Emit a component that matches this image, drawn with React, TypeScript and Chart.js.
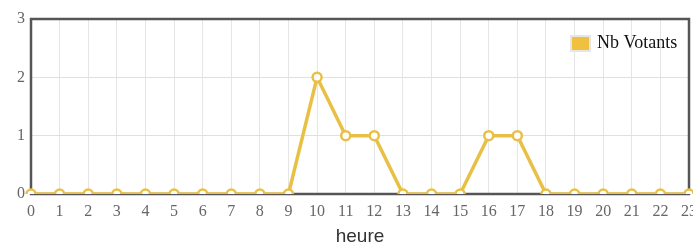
import React, { useEffect, useRef } from "react";
import { Chart, registerables } from "chart.js";

Chart.register(...registerables);

const hours = ["0","1","2","3","4","5","6","7","8","9","10","11","12","13","14","15","16","17","18","19","20","21","22","23"];
const votants = [0,0,0,0,0,0,0,0,0,0,2,1,1,0,0,0,1,1,0,0,0,0,0,0];
const seriesLabel = "Nb Votants";
const axisTitle = "heure";

const LINE = "#e9c046";
const CANVAS_W = 696;

const framePlugin = {
  id: "frame",
  beforeDatasetsDraw(chart: any) {
    const { ctx, chartArea: a } = chart;
    ctx.save();
    ctx.strokeStyle = "#555";
    ctx.lineWidth = 2.5;
    ctx.strokeRect(a.left, a.top, a.right - a.left, a.bottom - a.top);
    ctx.restore();
  },
};

const legendPlugin = {
  id: "innerLegend",
  afterDraw(chart: any) {
    const { ctx } = chart;
    ctx.save();
    const bx = 570, by = 35, bw = 21, bh = 17;
    ctx.fillStyle = "#e6e6e6";
    ctx.fillRect(bx, by, bw, bh);
    ctx.fillStyle = "#efc13f";
    ctx.fillRect(bx + 2, by + 2, bw - 4, bh - 4);
    ctx.fillStyle = "#111";
    ctx.font = '18px "Liberation Serif", serif';
    ctx.textBaseline = "middle";
    ctx.textAlign = "left";
    ctx.fillText(seriesLabel, 597, by + bh / 2);
    ctx.restore();
  },
};

export default function App() {
  const ref = useRef<HTMLCanvasElement>(null);
  useEffect(() => {
    if (!ref.current) return;
    const chart = new Chart(ref.current, {
      type: "line",
      data: {
        labels: hours,
        datasets: [
          {
            label: seriesLabel,
            data: votants,
            borderColor: LINE,
            backgroundColor: LINE,
            borderWidth: 3.5,
            pointRadius: 4.5,
            pointBorderWidth: 2.5,
            pointBackgroundColor: "#ffffff",
            pointBorderColor: LINE,
            tension: 0,
            fill: false,
          },
        ],
      },
      options: {
        animation: false,
        responsive: false,
        maintainAspectRatio: false,
        layout: { padding: { top: 19, right: 0, left: 0, bottom: 0 } },
        plugins: { legend: { display: false }, tooltip: { enabled: false } },
        scales: {
          x: {
            grid: { color: "#e5e5e5", drawTicks: false, lineWidth: 1 },
            border: { display: false },
            ticks: {
              padding: 8,
              color: "#666",
              font: { family: '"Liberation Serif", serif', size: 16 },
              autoSkip: false,
              maxRotation: 0,
            },
            title: {
              display: true,
              text: axisTitle,
              color: "#333",
              font: { family: '"Liberation Sans", Arial, sans-serif', size: 19, lineHeight: 1 },
              padding: { top: 0, bottom: 0 },
            },
            afterFit(scale: any) {
              scale.height = 52;
              scale.paddingLeft = 0;
              scale.paddingRight = 0;
            },
          },
          y: {
            min: 0,
            max: 3,
            grid: { color: "#e0e0e0", drawTicks: false, lineWidth: 1 },
            border: { display: false },
            ticks: {
              stepSize: 1,
              padding: 6,
              color: "#666",
              font: { family: '"Liberation Serif", serif', size: 16 },
            },
            afterFit(scale: any) {
              scale.width = 31;
            },
          },
        },
      },
      plugins: [framePlugin, legendPlugin],
    });
    return () => chart.destroy();
  }, []);
  return (
    <div style={{ position: "fixed", left: 0, top: 0, width: 693, height: 246, overflow: "hidden", background: "#fff" }}>
      <canvas ref={ref} width={CANVAS_W} height={246} style={{ width: CANVAS_W, height: 246, display: "block" }} />
    </div>
  );
}
